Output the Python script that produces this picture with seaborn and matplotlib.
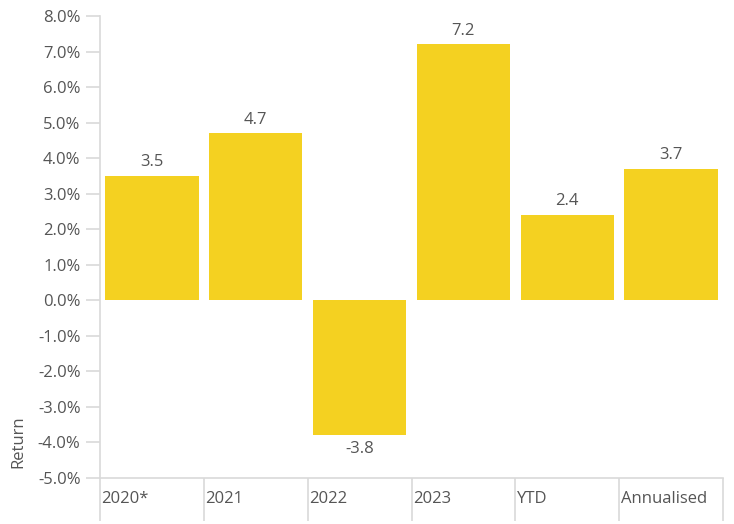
import matplotlib
matplotlib.use('Agg')
import matplotlib.pyplot as plt
import seaborn as sns
import pandas as pd
import numpy as np

# Data
categories = ['2020*', '2021', '2022', '2023', 'YTD', 'Annualised']
returns = [3.5, 4.7, -3.8, 7.2, 2.4, 3.7]
y_ticks = np.arange(-5, 9, 1)

bar_color = '#F4D121'
text_color = '#555555'
line_color = '#D9D9D9'

sns.set_theme(style='white')
plt.rcParams['font.family'] = ['Open Sans', 'DejaVu Sans']

df = pd.DataFrame({'Category': categories, 'Return': returns})

fig = plt.figure(figsize=(7.34, 5.24), dpi=100)
ax = fig.add_axes([100 / 734, 46 / 524, 623 / 734, 462 / 524])

sns.barplot(data=df, x='Category', y='Return', color=bar_color,
            width=0.9, saturation=1, linewidth=0, ax=ax)

ax.set_xlim(-0.5, len(categories) - 0.5)
ax.set_ylim(-5, 8)

# y axis
ax.set_yticks(y_ticks)
ax.set_yticklabels([f'{v:.1f}%' for v in y_ticks])
ax.tick_params(axis='y', length=10, width=1.2, color=line_color, pad=4,
               labelsize=12, labelcolor=text_color, left=True)

# x axis: long boundary ticks, labels left aligned in each band
bounds = np.arange(-0.5, len(categories), 1)
ax.set_xticks(bounds)
ax.set_xticklabels([])
ax.tick_params(axis='x', length=31, width=1.2, color=line_color, bottom=True)
for i, lab in enumerate(categories):
    ax.annotate(lab, xy=(i - 0.5, 0), xycoords=('data', 'axes fraction'),
                xytext=(1, -15), textcoords='offset points',
                ha='left', va='center', fontsize=12, color=text_color)

for side in ['top', 'right']:
    ax.spines[side].set_visible(False)
for side in ['left', 'bottom']:
    ax.spines[side].set_color(line_color)
    ax.spines[side].set_linewidth(1.2)

ax.set_xlabel('')
ax.set_ylabel('')
fig.text(18 / 734, 1 - 468 / 524, 'Return', rotation=90, ha='center',
         va='bottom', fontsize=12, color=text_color)

# value labels
for p, v in zip(ax.patches, returns):
    ax.annotate(f'{v:.1f}', xy=(p.get_x() + p.get_width() / 2, v),
                xytext=(0, 4 if v >= 0 else -4), textcoords='offset points',
                ha='center', va='bottom' if v >= 0 else 'top',
                fontsize=12, color=text_color)

plt.savefig('out.png', dpi=100)
plt.close()
